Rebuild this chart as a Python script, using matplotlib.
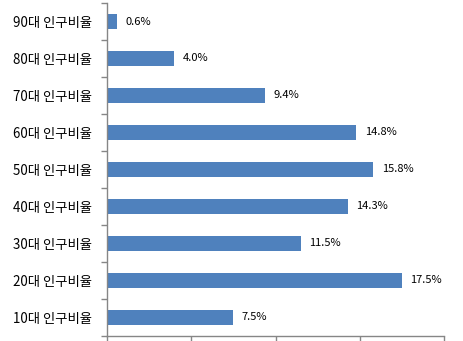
import matplotlib
matplotlib.use("Agg")
import matplotlib.pyplot as plt

plt.rcParams['font.family'] = ['Noto Sans CJK KR', 'DejaVu Sans']

categories = ["10대 인구비율", "20대 인구비율", "30대 인구비율", "40대 인구비율", "50대 인구비율",
              "60대 인구비율", "70대 인구비율", "80대 인구비율", "90대 인구비율"]
values = [7.5, 17.5, 11.5, 14.3, 15.8, 14.8, 9.4, 4.0, 0.6]
value_labels = ["7.5%", "17.5%", "11.5%", "14.3%", "15.8%", "14.8%", "9.4%", "4.0%", "0.6%"]
x_ticks = [0, 5, 10, 15, 20]

fig = plt.figure(figsize=(4.64, 3.41), dpi=100)
ax = fig.add_axes([0.2306, 0.0147, 0.7264, 0.9765])

pos = list(range(len(categories)))
ax.barh(pos, values, height=0.4, color="#4F81BD")
for p, v, t in zip(pos, values, value_labels):
    ax.annotate(t, (v, p), xytext=(6, 0), textcoords="offset points",
                va="center", ha="left", fontsize=8, color="black")

ax.set_xlim(0, 20)
ax.set_ylim(-0.5, len(categories) - 0.5)
ax.set_xticks(x_ticks)
ax.set_xticklabels([])
ax.set_yticks(pos)
ax.set_yticklabels(categories, fontsize=9.6)
ax.set_yticks([p - 0.5 for p in pos] + [len(categories) - 0.5], minor=True)
ax.tick_params(axis='y', which='major', length=0, pad=11)
ax.tick_params(axis='y', which='minor', length=4, color="#868686", width=1)
ax.tick_params(axis='x', which='major', length=4, color="#868686", width=1, direction='out')

for s in ['top', 'right']:
    ax.spines[s].set_visible(False)
for s in ['left', 'bottom']:
    ax.spines[s].set_color("#868686")
    ax.spines[s].set_linewidth(1)

fig.savefig("out.png", dpi=100)
